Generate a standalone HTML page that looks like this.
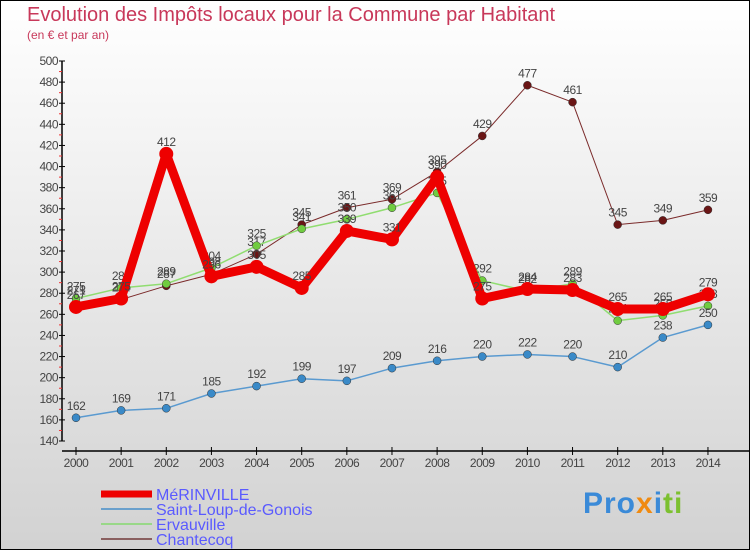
<!DOCTYPE html>
<html><head><meta charset="utf-8"><style>
html,body{margin:0;padding:0}
body{width:750px;height:550px;overflow:hidden;font-family:"Liberation Sans",sans-serif}
#wrap{position:relative;width:748px;height:548px;border:1px solid #000;background:linear-gradient(#ffffff,#d2d2d2)}
.t{position:absolute;color:#c8385a}
</style></head><body>
<div id="wrap">
<div class="t" style="left:26px;top:3px;font-size:20px">Evolution des Impôts locaux pour la Commune par Habitant</div>
<div class="t" style="left:26px;top:27px;font-size:12px">(en € et par an)</div>
<svg id="chart" width="748" height="548" style="position:absolute;left:0;top:0"></svg>
<div style="position:absolute;left:582px;top:486px;font-size:30px;font-weight:bold;letter-spacing:1px"><span style="color:#3a8ad8">Pro</span><span style="color:#f08a10">x</span><span style="color:#3a8ad8">i</span><span style="color:#7cc030">ti</span></div>
</div>
<script>
const years=["2000","2001","2002","2003","2004","2005","2006","2007","2008","2009","2010","2011","2012","2013","2014"];
const merinville=[267,275,412,296,305,285,339,331,390,275,284,283,265,265,279];
const saintLoup=[162,169,171,185,192,199,197,209,216,220,222,220,210,238,250];
const ervauville=[275,285,289,304,325,341,350,361,375,292,282,289,254,259,268];
const chantecoq=[271,274,287,298,317,345,361,369,395,429,477,461,345,349,359];
const yTicks=[140,160,180,200,220,240,260,280,300,320,340,360,380,400,420,440,460,480,500];
const NS="http://www.w3.org/2000/svg";
const svg=document.getElementById('chart');
const X=i=>75+i*45.14;
const Y=v=>60+(500-v)*(380/360);
function mk(t,a,p){const e=document.createElementNS(NS,t);for(const k in a)e.setAttribute(k,a[k]);(p||svg).appendChild(e);return e;}
// axes
const ax=mk('line',{x1:61,y1:60,x2:61,y2:440,stroke:'#000','stroke-width':1.5});

const bx=mk('line',{x1:61,y1:450,x2:748,y2:450,stroke:'#000','stroke-width':1.5});

yTicks.forEach(v=>{
 mk('line',{x1:58,y1:Y(v),x2:64,y2:Y(v),stroke:'#000'});
 if(v<500)mk('line',{x1:58,y1:Y(v+10),x2:61,y2:Y(v+10),stroke:'#e33'});
 const t=mk('text',{x:57,y:Y(v)+4,'text-anchor':'end','font-size':12,fill:'#444','letter-spacing':'-0.5'});
 t.textContent=v;
 
});
years.forEach((y,i)=>{
 mk('line',{x1:X(i),y1:446,x2:X(i),y2:454,stroke:'#000'});
 const t=mk('text',{x:X(i),y:466,'text-anchor':'middle','font-size':12,fill:'#444','letter-spacing':'-0.5'});
 t.textContent=y;
 
});
const series=[
 {name:'chantecoq',data:chantecoq,color:'#7a2a2a',w:1,r:4,fill:'#6a1515'},
 {name:'ervauville',data:ervauville,color:'#90dd70',w:1.5,r:4,fill:'#70cc40'},
 {name:'saint-loup',data:saintLoup,color:'#5a9ad0',w:1.5,r:4,fill:'#3a8ac8'},
 {name:'merinville',data:merinville,color:'#ee0000',w:9,r:7,fill:'#ee0000'}
];
series.forEach(s=>{
 const g=mk('g',{});
 
 const pts=s.data.map((v,i)=>X(i)+','+Y(v)).join(' ');
 const l=mk('polyline',{points:pts,fill:'none',stroke:s.color,'stroke-width':s.w,'stroke-linejoin':'round'},g);
 
 s.data.forEach((v,i)=>{
  const c=mk('circle',{cx:X(i),cy:Y(v),r:s.r,fill:s.fill,stroke:s.name==='merinville'?'none':'#333','stroke-width':0.5},g);
  
  const t=mk('text',{x:X(i),y:Y(v)-8,'text-anchor':'middle','font-size':12,fill:'#444','letter-spacing':'-0.5'},g);
  t.textContent=v;
  
 });
});
// legend
const leg=[['MéRINVILLE','#ee0000',7],['Saint-Loup-de-Gonois','#6aa0cc',2],['Ervauville','#99d888',2],['Chantecoq','#8a6060',2]];
leg.forEach((l,i)=>{
 const y=493+i*15;
 const g=mk('g',{});
 
 mk('line',{x1:100,y1:y,x2:151,y2:y,stroke:l[1],'stroke-width':l[2]},g);
 const t=mk('text',{x:155,y:y+6,'font-size':16,fill:'#5a5aff'},g);
 t.textContent=l[0];
});
</script>
</body></html>
